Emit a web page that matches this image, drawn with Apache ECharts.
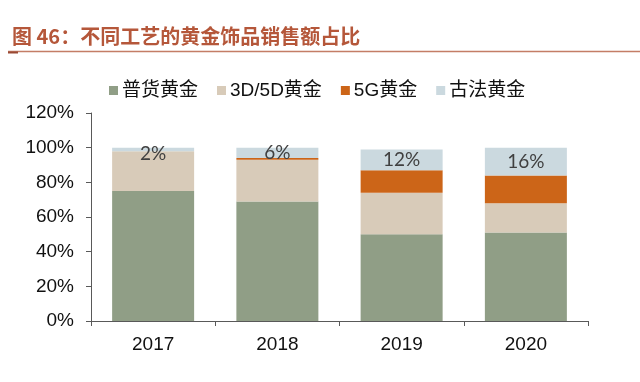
<!DOCTYPE html>
<html><head><meta charset="utf-8">
<script src="https://cdn.jsdelivr.net/npm/echarts@6/dist/echarts.min.js"></script>
<style>html,body{margin:0;padding:0;background:#fff}#c{width:640px;height:382px}</style>
</head><body><div id="c"></div>
<script>
const categories = ['2017', '2018', '2019', '2020'];
const seriesNames = ['普货黄金', '3D/5D黄金', '5G黄金', '古法黄金'];
const regular = [75, 69, 50, 51];
const d3d5d = [23, 24, 24, 17];
const g5 = [0, 1, 13, 16];
const ancient = [2, 6, 12, 16];
const yTicks = [0, 20, 40, 60, 80, 100, 120];

const colors = ['#909e86', '#d8cbb9', '#cc6518', '#cbd9df'];
const chart = echarts.init(document.getElementById('c'));
const fontEn = 'Liberation Sans, Arial, Noto Sans CJK SC, sans-serif';
const dataSets = [regular, d3d5d, g5, ancient];
chart.setOption({
  animation: false,
  title: {
    text: '图 46：不同工艺的黄金饰品销售额占比',
    left: 7, top: 21,
    textStyle: {color: '#b5573a', fontSize: 20, fontWeight: 'bold', fontFamily: 'Noto Sans CJK SC, sans-serif'}
  },
  graphic: [
    {type: 'line', shape: {x1: 8, y1: 51.5, x2: 640, y2: 51.5}, style: {stroke: '#c47d66', lineWidth: 1.5}},
    {type: 'line', shape: {x1: 8, y1: 52.5, x2: 18, y2: 52.5}, style: {stroke: '#9a4a35', lineWidth: 2}}
  ],
  legend: {
    left: 104, top: 76,
    itemWidth: 9, itemHeight: 9, itemGap: 19,
    icon: 'rect',
    textStyle: {fontSize: 19, color: '#111', fontFamily: fontEn, padding: [0, 0, 0, -1]},
    data: seriesNames
  },
  grid: {left: 91, right: 52, top: 113, bottom: 61},
  xAxis: {
    type: 'category', data: categories,
    axisLine: {lineStyle: {color: '#595959', width: 1}},
    axisTick: {show: true, alignWithLabel: false, length: 5, lineStyle: {color: '#595959'}},
    axisLabel: {fontSize: 19, color: '#111', margin: 14, fontFamily: fontEn}
  },
  yAxis: {
    type: 'value', min: 0, max: 120, interval: 20,
    axisLine: {show: true, lineStyle: {color: '#595959', width: 1}},
    axisTick: {show: true, length: 5, lineStyle: {color: '#595959'}},
    splitLine: {show: false},
    axisLabel: {fontSize: 19, color: '#111', margin: 17, fontFamily: fontEn, formatter: v => yTicks.includes(v) ? v + '%' : ''}
  },
  series: seriesNames.map((name, i) => ({
    name, type: 'bar', stack: 'total', barWidth: 82,
    itemStyle: {color: colors[i]},
    data: i === 3 ? dataSets[i].map((v, j) => j === 0 ? {value: v, label: {offset: [0, 4]}} : v) : dataSets[i],
    label: i === 3 ? {
      show: true, position: 'inside', formatter: '{c}%',
      fontSize: 19, color: '#404040', fontFamily: 'Lato, Open Sans, sans-serif'
    } : {show: false}
  }))
});
</script></body></html>
